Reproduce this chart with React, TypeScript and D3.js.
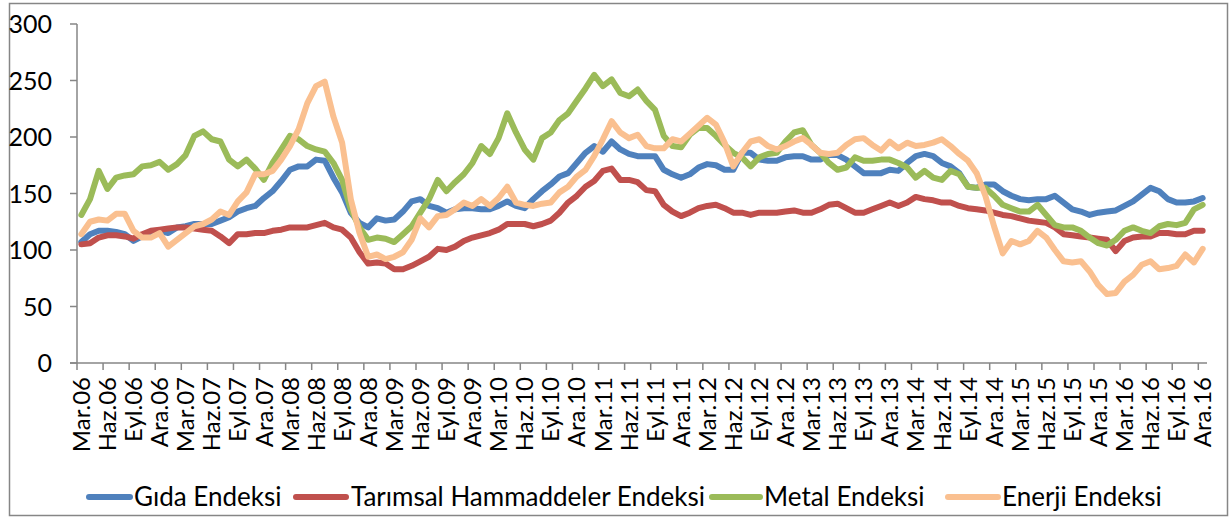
import React from "react";
import * as d3 from "d3";

const MONTHS = ["Oca", "Şub", "Mar", "Nis", "May", "Haz", "Tem", "Ağu", "Eyl", "Eki", "Kas", "Ara"];
// 130 monthly observations, Mar.06 .. Ara.16
const START_YEAR = 2006;
const START_MONTH = 2; // March (0-based)
const N_POINTS = 130;

const gida = [
  107, 114, 117, 117, 116, 114, 108, 112, 116, 117,
  115, 120, 121, 123, 123, 123, 126, 129, 134, 137,
  139, 146, 152, 161, 171, 174, 174, 180, 179, 164,
  151, 133, 124, 120, 128, 126, 127, 134, 143, 145,
  139, 137, 133, 136, 137, 137, 136, 136, 139, 143,
  139, 137, 145, 152, 158, 165, 168, 177, 186, 192,
  187, 196, 189, 185, 183, 183, 183, 171, 167, 164,
  167, 173, 176, 175, 171, 171, 186, 186, 180, 179,
  179, 182, 183, 183, 180, 180, 184, 184, 180, 174,
  168, 168, 168, 171, 170, 177, 183, 185, 183, 177,
  174, 168, 156, 155, 158, 158, 152, 148, 145, 144,
  145, 145, 148, 142, 136, 134, 131, 133, 134, 135,
  139, 143, 149, 155, 152, 145, 142, 142, 143, 146,
];

const tarimsal = [
  105, 106, 111, 113, 113, 112, 110, 114, 117, 118,
  119, 120, 120, 119, 118, 117, 112, 106, 114, 114,
  115, 115, 117, 118, 120, 120, 120, 122, 124, 120,
  118, 111, 98, 88, 89, 88, 83, 83, 86, 90,
  94, 101, 100, 103, 108, 111, 113, 115, 118, 123,
  123, 123, 121, 123, 126, 133, 142, 148, 156, 161,
  170, 172, 162, 162, 160, 153, 152, 140, 134, 130,
  133, 137, 139, 140, 137, 133, 133, 131, 133, 133,
  133, 134, 135, 133, 133, 136, 140, 141, 137, 133,
  133, 136, 139, 142, 139, 142, 147, 145, 144, 142,
  142, 139, 137, 136, 135, 133, 131, 130, 128, 126,
  125, 124, 120, 114, 113, 112, 111, 110, 109, 99,
  108, 111, 112, 112, 115, 115, 114, 114, 117, 117,
];

const metal = [
  131, 145, 170, 154, 164, 166, 167, 174, 175, 178,
  171, 176, 184, 201, 205, 198, 196, 180, 174, 180,
  172, 162, 177, 189, 201, 198, 192, 189, 187, 177,
  162, 136, 120, 109, 111, 110, 107, 114, 121, 133,
  145, 162, 152, 160, 167, 177, 192, 185, 199, 221,
  204, 189, 180, 199, 204, 215, 221, 232, 243, 255,
  245, 251, 239, 236, 242, 232, 224, 201, 192, 191,
  202, 208, 208, 201, 193, 186, 182, 174, 182, 185,
  186, 196, 204, 206, 193, 186, 177, 171, 173, 182,
  179, 179, 180, 180, 177, 173, 164, 170, 164, 162,
  170, 167, 156, 155, 155, 148, 140, 137, 134, 134,
  140, 131, 122, 120, 120, 117, 111, 106, 104, 109,
  117, 120, 117, 115, 121, 123, 122, 124, 136, 140,
];

const enerji = [
  114, 125, 127, 126, 132, 132, 117, 111, 111, 115,
  103, 109, 115, 121, 123, 127, 134, 131, 143, 151,
  167, 167, 170, 180, 192, 207, 230, 245, 249, 218,
  195, 145, 115, 94, 96, 92, 94, 98, 109, 128,
  120, 130, 131, 136, 142, 139, 145, 139, 146, 156,
  142, 140, 139, 141, 142, 151, 156, 165, 171, 183,
  198, 214, 204, 199, 202, 192, 190, 190, 198, 196,
  203, 210, 217, 211, 195, 174, 186, 196, 198, 192,
  189, 192, 196, 199, 193, 186, 185, 186, 193, 198,
  199, 193, 188, 196, 190, 195, 192, 193, 195, 198,
  192, 185, 179, 168, 148, 121, 97, 108, 105, 108,
  117, 111, 100, 90, 89, 90, 81, 69, 61, 62,
  72, 78, 87, 90, 83, 84, 86, 96, 89, 101,
];

const seriesNames = ["Gıda Endeksi", "Tarımsal Hammaddeler Endeksi", "Metal Endeksi", "Enerji Endeksi"];
const seriesColors = ["#4F81BD", "#C0504D", "#9BBB59", "#FAC090"];
const seriesData = [gida, tarimsal, metal, enerji];
const yTicks = [0, 50, 100, 150, 200, 250, 300];

const categories = d3.range(N_POINTS).map((i) => {
  const m = (START_MONTH + i) % 12;
  const y = START_YEAR + Math.floor((START_MONTH + i) / 12);
  return `${MONTHS[m]}.${String(y % 100).padStart(2, "0")}`;
});

const FONT = "Lato, 'Open Sans', sans-serif";

export default function App() {
  const W = 1229;
  const H = 518;
  const left = 77;
  const right = 1207;
  const top = 24;
  const bottom = 363;

  const x = d3.scaleLinear().domain([0, N_POINTS]).range([left, right]);
  const y = d3.scaleLinear().domain([0, 300]).range([bottom, top]);
  const cx = (i: number) => x(i + 0.5);

  const line = d3
    .line<number>()
    .x((_, i) => cx(i))
    .y((d) => y(d));

  const tickIdx = d3.range(0, N_POINTS, 3);
  const axisColor = "#868686";

  const legendItems = [
    { sx: 89, ex: 130, tx: 134 },
    { sx: 296, ex: 346, tx: 351 },
    { sx: 712, ex: 760, tx: 764 },
    { sx: 948, ex: 998, tx: 1002 },
  ];

  return (
    <svg
      width={W}
      height={H}
      style={{ position: "absolute", left: 0, top: 0, background: "#fff" }}
      fontFamily={FONT}
    >
      <rect x={0} y={0} width={W} height={H} fill="#fff" />
      <rect x={9.5} y={3.5} width={1218} height={512} fill="none" stroke={axisColor} strokeWidth={1.5} />

      {/* Y axis */}
      <line x1={left} x2={left} y1={top} y2={bottom} stroke={axisColor} strokeWidth={1.5} />
      {yTicks.map((t) => (
        <g key={t}>
          <line x1={left - 7} x2={left} y1={y(t)} y2={y(t)} stroke={axisColor} strokeWidth={1.5} />
          <text x={52} y={y(t)} dy="0.36em" textAnchor="end" fontSize={25} fill="#000">
            {t}
          </text>
        </g>
      ))}

      {/* X axis */}
      <line x1={left - 7} x2={right} y1={bottom} y2={bottom} stroke={axisColor} strokeWidth={1.5} />
      {tickIdx.map((i) => (
        <line key={i} x1={x(i)} x2={x(i)} y1={bottom} y2={bottom + 7} stroke={axisColor} strokeWidth={1.5} />
      ))}
      {tickIdx.map((i) => (
        <text
          key={"l" + i}
          transform={`translate(${cx(i)},${377}) rotate(-90)`}
          textAnchor="end"
          dy="0.36em"
          fontSize={24}
          fill="#000"
        >
          {categories[i]}
        </text>
      ))}

      {/* Lines */}
      {seriesData.map((d, k) => (
        <path
          key={k}
          d={line(d) || ""}
          fill="none"
          stroke={seriesColors[k]}
          strokeWidth={6}
          strokeLinejoin="round"
          strokeLinecap="round"
        />
      ))}

      {/* Legend */}
      {legendItems.map((it, k) => (
        <g key={"lg" + k}>
          <line x1={it.sx} x2={it.ex} y1={497} y2={497} stroke={seriesColors[k]} strokeWidth={6} strokeLinecap="round" />
          <text x={it.tx} y={497} dy="0.36em" fontSize={26} fill="#000">
            {seriesNames[k]}
          </text>
        </g>
      ))}
    </svg>
  );
}
